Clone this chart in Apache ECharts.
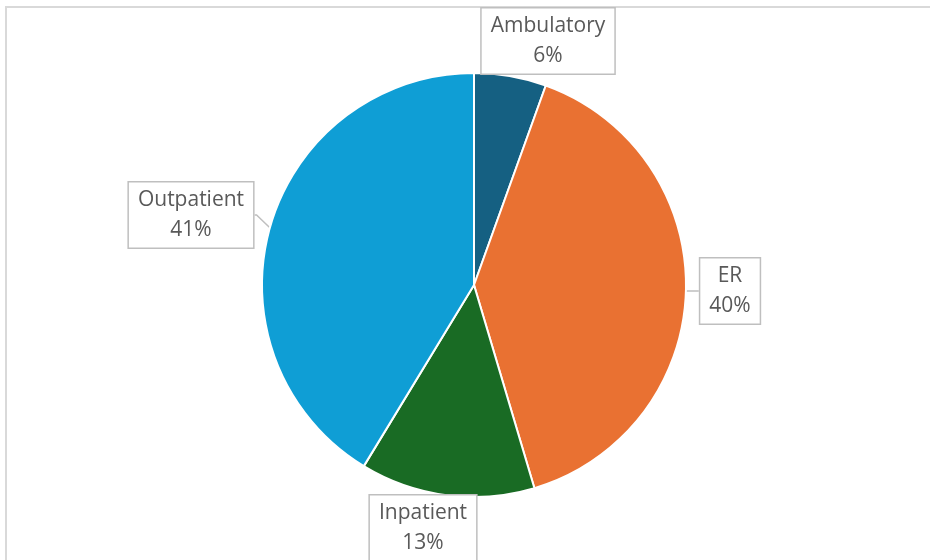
<!DOCTYPE html>
<html>
<head>
<meta charset="utf-8">
<script src="https://cdn.jsdelivr.net/npm/echarts@6/dist/echarts.min.js"></script>
<style>html,body{margin:0;padding:0;background:#fff}#c{width:930px;height:560px}</style>
</head>
<body>
<div id="c"></div>
<script>
const categories = ['Ambulatory', 'ER', 'Inpatient', 'Outpatient'];
const values = [5.5, 39.9, 13.3, 41.3];
const colors = ['#156082', '#E97132', '#196B24', '#0F9ED5'];
const showPointer = [false, true, false, true];

const labelPos = [[548, 41], [730, 291], [423, 528], [191, 215]];

const chart = echarts.init(document.getElementById('c'), null, {renderer: 'canvas'});
chart.setOption({
  animation: false,
  graphic: [{
    type: 'rect', z: -10, silent: true,
    shape: {x: 6, y: 7, width: 1000, height: 1000},
    style: {fill: '#fff', stroke: '#d9d9d9', lineWidth: 2}
  }],
  series: [{
    type: 'pie',
    center: [474, 285],
    radius: 212,
    startAngle: 90,
    clockwise: true,
    percentPrecision: 0,
    itemStyle: {borderColor: '#fff', borderWidth: 2},
    label: {
      show: true,
      position: 'outside',
      formatter: '{b}\n{d}%',
      fontFamily: 'Open Sans',
      fontSize: 21,
      lineHeight: 30,
      color: '#595959',
      backgroundColor: '#fff',
      borderColor: '#bfbfbf',
      borderWidth: 1.5,
      padding: [3, 9, 2, 9],
      align: 'center'
    },
    labelLine: {show: true, length: 4, length2: 2, lineStyle: {color: '#bfbfbf', width: 1.5}},
    labelLayout: function (p) {
      const pos = labelPos[p.dataIndex];
      return {x: pos[0], y: pos[1], align: 'center', verticalAlign: 'middle'};
    },
    data: categories.map((n, i) => ({
      name: n, value: values[i],
      itemStyle: {color: colors[i]},
      labelLine: {show: showPointer[i]}
    }))
  }]
});
</script>
</body>
</html>
